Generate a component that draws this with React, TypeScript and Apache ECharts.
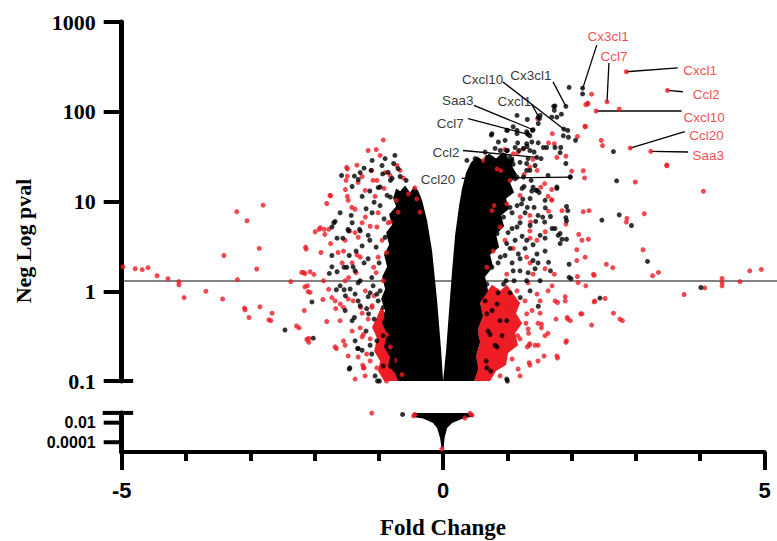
import { useEffect, useRef } from 'react';
import * as echarts from 'echarts';

// ---------- axes ----------
const xMin = -5;
const xMax = 5;
const topPanelMin = 0.1;
const topPanelMax = 1000;
const lowerPanelMin = 0.00001;
const lowerPanelMax = 0.1;
const lowerTicks = [0.0001, 0.01];
const threshold = 1.3;

// ---------- dense cores (outline of the packed clouds) [fold change, neg log p] ----------
const coreLeft: number[][] = [
  [0, 0.1], [-0.031, 0.22], [-0.093, 0.78], [-0.171, 2.8], [-0.249, 6.1], [-0.327, 10.3], [-0.389, 13.3],
  [-0.451, 14.7], [-0.513, 12.6], [-0.591, 15.1], [-0.669, 13.0], [-0.731, 14.0],
  [-0.778, 10.8], [-0.731, 8.8], [-0.84, 7.2], [-0.793, 5.5], [-0.886, 4.5], [-0.84, 3.3], [-0.918, 2.55],
  [-0.871, 1.88], [-0.949, 1.45], [-0.902, 1.06], [-0.964, 0.82], [-0.902, 0.61], [-0.949, 0.44],
  [-0.871, 0.33], [-0.918, 0.24], [-0.824, 0.185], [-0.855, 0.143], [-0.747, 0.123], [-0.7, 0.1],
];
const coreRight: number[][] = [
  [0, 0.1], [0.047, 0.22], [0.093, 0.61], [0.14, 1.69], [0.187, 4.2], [0.249, 9.0], [0.295, 14.0], [0.358, 21.1],
  [0.435, 27.3], [0.529, 31.8], [0.622, 28.7], [0.715, 34.3], [0.824, 30.1], [0.933, 35.6], [1.026, 29.4], [1.104, 31.8],
  [1.073, 24.7], [1.151, 19.9], [1.042, 16.3], [1.104, 12.6], [0.98, 10.8], [1.026, 8.3], [0.902, 7.0], [0.949, 5.3],
  [0.824, 4.3], [0.871, 3.1], [0.731, 2.55], [0.778, 1.88], [0.653, 1.45], [0.7, 1.01], [0.575, 0.74], [0.622, 0.53],
  [0.544, 0.38], [0.575, 0.27], [0.513, 0.19], [0.544, 0.136], [0.482, 0.1],
];
const fringeLeft: number[][] = [
  [-0.591, 0.1], [-0.918, 0.1], [-1.011, 0.129], [-0.98, 0.167], [-1.073, 0.216], [-1.026, 0.295],
  [-1.104, 0.4], [-1.026, 0.52], [-0.964, 0.67], [-0.886, 0.55], [-0.902, 0.38], [-0.824, 0.28],
  [-0.84, 0.205], [-0.747, 0.159], [-0.7, 0.123],
];
const fringeRight: number[][] = [
  [0.482, 0.1], [0.529, 0.136], [0.513, 0.19], [0.575, 0.27], [0.544, 0.38], [0.622, 0.53], [0.575, 0.74],
  [0.669, 0.96], [0.762, 1.18], [0.886, 1.01], [0.995, 1.18], [1.104, 0.91], [1.197, 0.74], [1.135, 0.57],
  [1.229, 0.44], [1.12, 0.34], [1.166, 0.25], [1.011, 0.205], [0.98, 0.151], [0.824, 0.129], [0.731, 0.1],
];
const funnelLower: number[][] = [
  [-0.467, 0.1], [0.451, 0.1], [0.467, 0.043], [0.311, 0.027], [0.14, 0.0093], [0.062, 0.0029],
  [0.023, 0.00027], [0.008, 0.000021], [-0.023, 0.000021], [-0.047, 0.00027], [-0.093, 0.0029],
  [-0.156, 0.0093], [-0.311, 0.027], [-0.467, 0.038],
];

// ---------- individual genes ----------
const redPoints: number[][] = [
  [-4.98, 1.87], [-4.79, 1.78], [-4.68, 1.74], [-4.59, 1.83], [-4.45, 1.49], [-4.28, 1.38], [-4.11, 1.28], [-4.11, 1.18], [-4.03, 0.85],
  [-3.21, 7.7], [-3.05, 6.1], [-2.8, 9.1], [-2.86, 3.0], [-3.41, 2.5], [-2.9, 1.77], [-3.2, 1.35], [-3.69, 1.0], [-3.43, 0.82],
  [-3.09, 0.65], [-3.08, 0.62], [-3.02, 0.51], [-2.85, 0.67], [-2.66, 0.57], [-2.71, 0.48], [-2.68, 0.47], [-2.28, 0.41],
  [-2.24, 0.39], [-2.12, 0.29], [-2.09, 0.27], [-2.37, 1.28], [-2.2, 1.62], [-2.15, 1.57], [-2.07, 1.65], [-2.01, 1.54],
  [-2.13, 2.95], [-1.99, 4.6], [-1.93, 4.9], [-1.85, 4.9], [-1.78, 4.9], [-1.84, 4.3], [-1.76, 11.7], [-1.81, 9.5], [-1.9, 2.7],
  [-2.16, 0.61], [-2.1, 0.99], [-2.15, 1.12], [-1.81, 0.46], [-1.68, 0.24], [-1.66, 0.23], [-1.49, 23], [-1.34, 25.4],
  [-1.49, 19.2], [-1.52, 13.6], [-1.49, 11.4], [-1.37, 8.2],
  [-0.93, 48.5], [-1.04, 37.9], [-0.72, 25.2], [-1.26, 19], [-1.51, 17.2], [-0.67, 22.2], [-0.62, 18.3], [-1.09, 17.2],
  [-1.75, 11.6], [-1.42, 8.6], [-0.44, 14.2], [-1.91, 5.1], [-2.14, 3.1], [-1.75, 3.4], [-1.32, 4.0], [-1.34, 2.55],
  [-2.17, 1.62], [-2.11, 1.15], [-2.07, 0.97], [-1.86, 1.31], [-1.87, 0.81], [-1.78, 1.05], [-1.73, 0.85], [-1.6, 0.72],
  [-1.55, 0.66], [-1.67, 0.64], [-1.28, 0.66], [-1.24, 0.33], [-2.09, 0.3], [-1.25, 0.15], [-1.23, 0.14],
  [-1.5, 24], [-1.11, 22.2], [-1.03, 17.2], [-0.9, 21], [-1.21, 6.7], [-1.45, 4.7], [-1.03, 5.2], [-0.82, 5.9], [-0.7, 7.6],
  [-0.54, 12.2], [-0.41, 10.7], [-0.36, 7.6], [-1.55, 2.8], [-1.29, 2.4], [-1.08, 1.85], [-0.88, 2.7], [-1.47, 1.42],
  [-1.21, 1.01], [-0.93, 1.31], [-1.4, 0.78], [-1.11, 0.66], [-0.95, 0.51], [-1.29, 0.39], [-1.06, 0.39], [-0.88, 0.33],
  [-1.01, 0.26], [-0.82, 0.24], [-1.19, 0.2], [-0.93, 0.18], [-0.75, 0.17], [-1.03, 0.14], [-0.82, 0.129], [-0.64, 0.118],
  [-0.88, 0.1], [-1.24, 0.14], [-1.55, 0.28],
  [-0.731, 10.3], [-0.855, 5.8], [-0.949, 3.7], [-1.011, 2.4], [-1.042, 1.61], [-1.073, 0.89], [-1.104, 0.69], [-1.166, 0.49],
  [-1.26, 0.31], [-1.322, 0.185], [-1.135, 0.167], [-1.213, 0.114], [-1.369, 0.105], [-1.477, 0.19], [-1.602, 0.47],
  [-1.68, 0.78], [-1.524, 1.31], [-1.415, 2.07], [-1.633, 2.7], [-1.524, 3.7], [-1.369, 4.5], [-1.26, 5.8], [-1.058, 11.4],
  [-0.918, 14.0], [-0.824, 19.5], [-1.213, 13.3],
  [-1.166, 37], [-0.98, 32.6], [-1.322, 16.3], [-1.477, 10.3], [-1.011, 7.5], [-1.135, 5.3], [-1.571, 2.07], [-1.353, 1.61],
  [-1.477, 0.82], [-1.26, 0.57], [-1.415, 0.36], [-1.524, 0.25], [-1.135, 0.295],
  [0.63, 28.7], [0.84, 23], [1.09, 34], [1.25, 38.5], [1.4, 29.5], [0.76, 7.9], [0.99, 9.4], [1.2, 6.7], [0.89, 5.2],
  [1.35, 4.7], [1.46, 3.7], [1.09, 3.0], [0.78, 2.8], [1.3, 2.4], [0.68, 1.85], [0.99, 1.55], [1.4, 1.55], [1.15, 1.01],
  [0.84, 1.01], [1.46, 0.93], [0.63, 0.78], [1.04, 0.66], [1.3, 0.56], [0.73, 0.51], [0.94, 0.39], [0.58, 0.33],
  [0.84, 0.28], [0.68, 0.2], [1.04, 0.24], [0.78, 0.14], [0.58, 0.118],
  [1.275, 0.78], [1.384, 0.61], [1.477, 0.44], [1.197, 0.295], [1.073, 0.176], [0.886, 0.114], [1.166, 0.136], [1.431, 0.25],
  [1.586, 0.32], [1.509, 0.78], [1.322, 1.24], [1.633, 1.01], [0.964, 3.7], [1.353, 2.07], [0.793, 9.0], [1.042, 17.2], [1.197, 11.7],
  [1.462, 22.2], [1.633, 11.4], [1.353, 3.9], [1.586, 1.78], [1.695, 1.15], [1.509, 0.57], [1.322, 0.38], [1.757, 0.49],
  [1.477, 0.25], [1.477, 0.167], [1.197, 0.114], [1.742, 0.78],
  [2.18, 22.0], [2.2, 18.3], [2.99, 16.5], [3.48, 25.0], [4.05, 13.0], [1.69, 13.6], [1.52, 14.4], [1.69, 10.5], [1.85, 7.9],
  [2.18, 7.7], [2.27, 7.9], [2.86, 6.5], [2.85, 5.9], [3.13, 7.3], [1.64, 7.8], [2.11, 4.3], [2.26, 3.8], [2.08, 2.9],
  [3.11, 2.9], [2.54, 2.0], [2.64, 1.83], [2.08, 2.2], [2.35, 1.5], [2.09, 1.46], [3.26, 1.49], [3.35, 1.62], [4.77, 1.69],
  [4.95, 1.75], [4.34, 1.39], [4.34, 1.25], [4.34, 1.15], [4.62, 1.28], [4.07, 1.09], [3.75, 0.92], [2.22, 1.15],
  [1.9, 0.87], [1.78, 0.75], [2.52, 0.83], [2.35, 0.76], [2.14, 0.56], [2.65, 0.57], [2.75, 0.49], [2.79, 0.47],
  [1.94, 0.49], [1.98, 0.47], [2.31, 0.42], [1.63, 0.34], [1.53, 0.43], [1.92, 0.28], [1.91, 0.27], [1.33, 0.34],
  [1.34, 0.25], [1.31, 0.24], [1.57, 0.19], [1.77, 0.19], [1.78, 0.18], [1.34, 0.16], [1.35, 0.15],
  [2.31, 157], [2.22, 120], [2.25, 122], [2.74, 107], [2.21, 68], [2.09, 53], [2.46, 48], [2.48, 42], [3.48, 25.5],
  [2.0, 21.8], [1.47, 84], [1.7, 57], [2.21, 69], [2.25, 125], [0.96, 38], [1.16, 35], [1.64, 45], [1.73, 44], [1.77, 31],
  [1.91, 32], [0.9, 22.2], [1.26, 20], [1.35, 24.2], [1.58, 15.8], [1.69, 10.3], [1.35, 7.0], [1.36, 5.9], [1.59, 4.6],
  [1.91, 5.6], [2.16, 3.7], [2.21, 2.4], [1.73, 1.55], [2.1, 1.25], [2.34, 1.55], [2.36, 0.78], [1.9, 0.78], [2.16, 0.56],
  [1.93, 0.51], [1.35, 0.26], [1.16, 0.32], [1.53, 0.39], [1.29, 0.44],
];

const blackPoints: number[][] = [
  [-2.46, 0.37], [-2.02, 0.3], [-1.38, 19.2], [-1.32, 17.6], [-1.68, 6.0], [-1.73, 5.2], [-1.65, 3.9], [-1.56, 3.9],
  [-1.48, 4.9], [-1.43, 7.0], [-1.73, 2.5], [-1.73, 1.87], [-1.65, 1.65], [-1.54, 1.85], [-1.46, 2.5], [-1.4, 1.87],
  [-1.77, 1.58], [-1.66, 1.04], [-1.54, 1.04], [-1.52, 0.89], [-2.04, 0.76], [-1.38, 0.51], [-1.32, 0.23], [-1.46, 0.136],
  [-0.75, 32.6], [-0.95, 25.2], [-1.23, 23.5], [-1.12, 22.2], [-0.94, 20.3], [-0.82, 17.2], [-1.14, 13.1], [-1.01, 14.3],
  [-1.7, 5.8], [-1.47, 4.7], [-1.3, 4.9], [-1.19, 0.64], [-1.33, 0.23], [-1.45, 0.14], [-1.02, 0.1], [-0.78, 0.17],
  [-1.58, 19.5], [-1.29, 21], [-0.77, 26.5], [-0.98, 14.5], [-0.82, 11.2], [-1.29, 4.7], [-1.14, 3.7], [-0.9, 4.0],
  [-1.5, 1.85], [-1.29, 1.31], [-1.11, 1.42], [-1.37, 0.93], [-1.03, 0.93], [-1.16, 0.56], [-0.93, 0.66], [-1.03, 0.28],
  [-1.11, 0.2], [-0.99, 0.1],
  [-0.669, 19.0], [-0.575, 17.2], [-0.793, 18.1], [-0.871, 11.7], [-0.98, 9.0], [-1.104, 7.5], [-0.918, 6.4], [-1.042, 3.1],
  [-1.166, 2.3], [-0.995, 2.07], [-1.089, 1.15], [-1.011, 0.78], [-1.166, 0.87], [-1.291, 0.69], [-1.073, 0.49],
  [-1.198, 0.36], [-0.933, 0.32], [-1.135, 0.25], [-0.933, 0.147], [-1.058, 0.114], [-1.26, 0.22], [-1.369, 0.28],
  [-1.415, 0.47], [-1.524, 0.61], [-1.602, 1.15], [-1.369, 1.69], [-1.26, 3.2], [-1.166, 4.2], [-1.415, 5.8], [-1.602, 7.5],
  [-1.104, 28.7], [-0.902, 30.1], [-0.7, 23.2], [-0.855, 21.1], [-1.415, 14.7], [-1.26, 11.4], [-1.073, 9.8], [-1.198, 8.3],
  [-1.353, 2.8], [-1.229, 2.07], [-1.446, 1.06], [-1.322, 1.24], [-1.322, 0.78], [-1.135, 0.96], [-0.98, 1.01],
  [2.17, 183], [2.17, 158], [1.96, 187], [1.72, 115], [1.73, 104], [1.69, 87], [1.77, 87], [1.87, 54], [1.95, 52],
  [1.48, 87], [1.09, 68], [1.15, 62], [1.3, 60], [1.35, 54], [0.99, 62], [0.76, 57], [0.89, 37], [0.99, 37],
  [1.12, 40], [1.25, 39], [1.3, 44], [1.38, 46], [1.56, 40], [1.82, 35], [0.68, 31], [0.89, 28.7], [1.04, 31], [0.73, 24],
  [0.94, 24], [1.09, 26], [0.52, 18.7], [0.84, 18.7], [1.15, 18.7], [1.25, 18.7], [1.46, 13.3], [1.4, 14.4], [0.42, 14.4],
  [0.63, 13.3], [0.89, 14.4],
  [0.75, 55], [1.0, 62], [1.15, 57], [1.31, 57], [1.39, 62], [1.15, 91], [1.31, 82], [1.48, 74], [1.51, 91], [1.74, 116],
  [1.84, 94], [1.94, 62], [2.06, 48], [0.86, 46], [1.0, 37], [1.16, 45], [1.35, 37], [1.48, 45], [1.61, 40], [1.74, 40],
  [1.83, 40], [1.91, 26.5], [0.68, 28.7], [0.86, 28], [1.3, 26.5], [1.35, 22.2], [1.45, 13.3], [1.77, 14], [1.98, 18.8],
  [1.92, 8.8], [1.94, 7.9], [1.92, 6.1], [1.31, 8.6], [1.59, 8.5], [1.55, 6.7], [1.67, 6.8], [1.58, 5.9], [1.79, 4.2],
  [1.85, 3.8], [1.96, 2.0], [1.64, 2.1], [1.46, 2.6], [1.67, 1.69], [1.96, 1.43], [1.0, 0.1], [0.74, 0.129],
  [2.7, 17], [1.77, 14.5], [1.38, 13.1], [1.24, 10.6], [2.47, 6.2], [2.74, 7.1], [2.93, 5.4], [1.91, 6.6], [1.44, 6.0],
  [1.74, 5.0], [1.82, 4.4], [1.92, 3.8], [1.82, 3.4], [3.18, 2.15], [1.99, 1.38], [4.01, 1.1], [2.44, 0.84], [1.48, 0.68],
  [2.65, 36],
  [0.37, 28.7], [0.52, 24], [0.68, 18.7], [0.89, 15.8], [0.58, 14.5], [1.09, 20.3], [1.3, 22.2], [0.84, 11.2], [1.04, 8.6],
  [1.22, 9.4], [0.94, 6.7], [1.15, 5.2], [0.84, 4.4], [1.3, 3.7], [0.99, 3.4], [0.73, 3.7], [1.17, 2.6], [0.89, 2.4],
  [1.4, 2.2], [0.76, 1.85], [1.09, 1.69], [1.3, 1.31], [0.94, 1.2], [0.68, 1.2], [1.2, 0.85], [0.84, 0.72], [0.68, 0.56],
  [0.99, 0.47], [0.73, 0.33], [0.84, 0.24], [0.68, 0.14], [0.99, 0.105],
  [0.964, 32.6], [1.073, 28.7], [1.197, 27.3], [1.322, 30.1], [1.431, 25.2], [1.12, 17.9], [1.011, 14.0], [1.229, 14.0],
  [1.353, 10.8], [1.073, 7.5], [1.197, 5.8], [1.353, 5.4], [1.011, 4.5], [1.12, 3.7], [1.275, 3.0], [0.964, 2.5],
  [0.855, 2.07], [1.073, 2.07], [1.197, 1.69], [0.98, 1.31], [0.855, 0.96], [1.042, 0.96], [1.353, 1.01], [1.509, 1.31],
  [1.431, 1.78], [1.586, 2.8], [1.509, 4.2], [1.477, 7.0], [1.586, 10.3], [1.633, 19.5], [0.964, 48], [0.809, 39],
  [0.653, 35.5], [0.498, 30.1],
  [1.182, 37], [1.306, 41], [1.415, 35.6], [1.524, 30.1], [1.26, 14.7], [1.369, 17.2], [1.493, 12.6], [1.151, 9.0],
  [1.275, 7.5], [1.415, 8.6], [1.073, 5.0], [1.229, 4.1], [1.4, 3.3], [1.586, 3.9], [1.042, 3.0], [1.197, 2.3],
  [1.322, 1.61], [1.104, 1.31], [1.477, 2.07], [1.695, 5.0],
  [0.653, 0.78], [0.762, 0.61], [0.886, 0.47], [0.7, 0.36], [0.809, 0.25], [0.918, 0.32], [0.669, 0.167],
];

const redLowerPoints: number[][] = [
  [-1.11, 0.095], [-0.44, 0.07], [-0.46, 0.05], [0.34, 0.03], [0.42, 0.09], [0.45, 0.06], [-0.02, 0.00002],
];
const blackLowerPoints: number[][] = [[-0.63, 0.07]];

// ---------- labelled genes ----------
const blackGenes = ['Cx3cl1', 'Cxcl10', 'Cxcl1', 'Saa3', 'Ccl7', 'Ccl2', 'Ccl20'];
const blackGenePoints: number[][] = [[1.91, 115], [1.88, 64], [1.5, 84], [1.4, 63], [1.32, 56], [1.46, 31], [1.975, 18.7]];
const blackGeneAnchors: number[][] = [[1.71, 215], [0.93, 215], [1.38, 121], [0.48, 118], [0.39, 84], [0.31, 37], [0.29, 18.1]];

const redGenes = ['Cx3cl1', 'Ccl7', 'Cxcl1', 'Ccl2', 'Cxcl10', 'Ccl20', 'Saa3'];
const redGenePoints: number[][] = [[2.17, 180], [2.55, 129], [2.85, 279], [3.49, 173], [2.38, 102], [2.91, 39.4], [3.23, 36.2]];
const redGeneDotIsRed = [false, true, true, true, true, true, true];
const redGeneAnchors: number[][] = [[2.39, 553], [2.58, 349], [3.65, 308], [3.73, 167], [3.71, 102], [3.76, 60], [3.81, 35.6]];

// label placement (layout only)
const blackLabelLayout = [
  { distance: 1, offset: [0, -6.5] },
  { distance: 0, offset: [1, -2] },
  { distance: 0, offset: [0, -3] },
  { distance: 0, offset: [0, -5] },
  { distance: 4, offset: [0, 5] },
  { distance: 3, offset: [0, 2] },
  { distance: 6, offset: [0, 1.5] },
];
const redLabelLayout = [
  { position: 'top', distance: 1.5, offset: [11.5, 0] },
  { position: 'top', distance: 0, offset: [5, 0.5] },
  { position: 'right', distance: 5, offset: [0, 3] },
  { position: 'right', distance: 9.5, offset: [0, 2.3] },
  { position: 'right', distance: 1.5, offset: [0, 7] },
  { position: 'right', distance: 4, offset: [0, 4] },
  { position: 'right', distance: 4, offset: [0, 3.3] },
];

const RED = '#ee1c25';
const BLACK = '#000000';
const SANS = '"Liberation Sans", Arial, sans-serif';
const SERIF = '"Liberation Serif", "Times New Roman", serif';

function polygonSeries(pts: number[][], color: string, yIdx: number, opacity = 1) {
  return {
    type: 'custom',
    xAxisIndex: yIdx === 0 ? 0 : 1,
    yAxisIndex: yIdx,
    silent: true,
    data: [[pts[0][0], pts[0][1]]],
    renderItem: (_p: any, api: any) => ({
      type: 'polygon',
      shape: { points: pts.map((p) => api.coord(p)) },
      style: { fill: color, opacity },
    }),
  };
}

function scatterSeries(data: number[][], color: string, yIdx: number) {
  return {
    type: 'scatter',
    xAxisIndex: yIdx === 0 ? 0 : 1,
    yAxisIndex: yIdx,
    data,
    symbolSize: 5,
    silent: true,
    itemStyle: { color },
  };
}

function buildOption() {
  const segments = [
    ...blackGeneAnchors.map((a, i) => [a[0], a[1], blackGenePoints[i][0], blackGenePoints[i][1]]),
    ...redGeneAnchors.map((a, i) => [a[0], a[1], redGenePoints[i][0], redGenePoints[i][1]]),
  ];
  const labelData = [
    ...blackGenes.map((g, i) => ({
      name: g,
      value: blackGeneAnchors[i],
      label: { position: 'left', distance: blackLabelLayout[i].distance, offset: blackLabelLayout[i].offset, color: BLACK },
    })),
    ...redGenes.map((g, i) => ({
      name: g,
      value: redGeneAnchors[i],
      label: { position: redLabelLayout[i].position, distance: redLabelLayout[i].distance, offset: redLabelLayout[i].offset, color: RED },
    })),
  ];
  const redLabelDots = redGenePoints.filter((_, i) => redGeneDotIsRed[i]);

  const tickStyle = { color: BLACK, width: 4 };
  return {
    animation: false,
    backgroundColor: '#ffffff',
    grid: [
      { left: 121.7, right: 12.5, top: 22, height: 359 },
      { left: 121.7, right: 12.5, top: 412.9, height: 39.1 },
    ],
    xAxis: [
      { gridIndex: 0, type: 'value', min: xMin, max: xMax, show: false },
      {
        gridIndex: 1, type: 'value', position: 'bottom', min: xMin, max: xMax, interval: 1,
        axisLine: { onZero: false, lineStyle: { color: BLACK, width: 4 } },
        axisTick: { length: 9, lineStyle: tickStyle },
        axisLabel: { show: false }, splitLine: { show: false },
      },
      {
        gridIndex: 1, type: 'value', position: 'bottom', offset: 0, min: xMin, max: xMax, interval: 5,
        axisLine: { show: false, onZero: false },
        axisTick: { length: 18, lineStyle: tickStyle },
        axisLabel: { fontSize: 22, fontWeight: 'bold', fontFamily: SANS, color: BLACK, margin: 27 },
        splitLine: { show: false },
      },
    ],
    yAxis: [
      {
        gridIndex: 0, type: 'log', logBase: 10, min: topPanelMin, max: topPanelMax,
        axisLine: { show: true, onZero: false, lineStyle: { color: BLACK, width: 5 } },
        axisTick: { show: true, length: 18, lineStyle: tickStyle },
        axisLabel: {
          fontSize: 22, fontWeight: 'bold', fontFamily: SERIF, color: BLACK, margin: 26,
          formatter: (v: number) => String(Number(Number(v).toPrecision(4))),
        },
        splitLine: { show: false }, minorTick: { show: false },
      },
      {
        gridIndex: 1, type: 'log', logBase: 10, min: lowerPanelMin, max: lowerPanelMax,
        axisLine: { show: true, onZero: false, lineStyle: { color: BLACK, width: 5 } },
        axisTick: { show: false }, axisLabel: { show: false }, splitLine: { show: false },
      },
    ],
    series: [
      polygonSeries(fringeLeft, RED, 0),
      polygonSeries(fringeRight, RED, 0),
      polygonSeries(coreLeft, BLACK, 0),
      polygonSeries(coreRight, BLACK, 0),
      polygonSeries(funnelLower, BLACK, 1),
      scatterSeries(redPoints, RED, 0),
      scatterSeries(redLabelDots, RED, 0),
      scatterSeries(blackPoints, BLACK, 0),
      scatterSeries(blackGenePoints, BLACK, 0),
      scatterSeries(redLowerPoints, RED, 1),
      scatterSeries(blackLowerPoints, BLACK, 1),
      {
        type: 'custom', xAxisIndex: 0, yAxisIndex: 0, silent: true, data: segments,
        renderItem: (_p: any, api: any) => {
          const a = api.coord([api.value(0), api.value(1)]);
          const b = api.coord([api.value(2), api.value(3)]);
          return { type: 'line', shape: { x1: a[0], y1: a[1], x2: b[0], y2: b[1] }, style: { stroke: BLACK, lineWidth: 1.3 } };
        },
      },
      {
        type: 'scatter', xAxisIndex: 0, yAxisIndex: 0, silent: true, symbolSize: 1,
        itemStyle: { color: 'rgba(0,0,0,0)' },
        label: { show: true, formatter: '{b}', fontFamily: SANS, fontSize: 13.5 },
        data: labelData,
      },
    ],
  };
}

export default function App() {
  const ref = useRef<HTMLDivElement>(null);
  useEffect(() => {
    const chart = echarts.init(ref.current!, undefined, { renderer: 'svg' });
    chart.setOption(buildOption() as any);
    const x0 = chart.convertToPixel({ xAxisIndex: 0 }, xMin) as number;
    const yThr = chart.convertToPixel({ yAxisIndex: 0 }, threshold) as number;
    const yTopBreak = chart.convertToPixel({ yAxisIndex: 0 }, topPanelMin) as number;
    const yLowBreak = chart.convertToPixel({ yAxisIndex: 1 }, lowerPanelMax) as number;
    const graphics: any[] = [
      { type: 'line', z: 0, shape: { x1: x0, y1: yThr, x2: 777, y2: yThr }, style: { stroke: '#5a5a5a', lineWidth: 1.4 } },
      { type: 'line', z: 10, shape: { x1: x0, y1: yTopBreak, x2: x0 + 11.5, y2: yTopBreak }, style: { stroke: BLACK, lineWidth: 4 } },
      { type: 'line', z: 10, shape: { x1: x0 - 19, y1: yLowBreak, x2: x0 + 11.5, y2: yLowBreak }, style: { stroke: BLACK, lineWidth: 4 } },
      {
        type: 'text', z: 10, x: 23, y: 241, rotation: Math.PI / 2,
        style: { text: 'Neg Log pval', font: `bold 22px ${SERIF}`, fill: BLACK, textAlign: 'center', textVerticalAlign: 'middle' },
      },
      {
        type: 'text', z: 10, x: 443, y: 527,
        style: { text: 'Fold Change', font: `bold 23px ${SERIF}`, fill: BLACK, textAlign: 'center', textVerticalAlign: 'middle' },
      },
    ];
    lowerTicks.forEach((v) => {
      const y = chart.convertToPixel({ yAxisIndex: 1 }, v) as number;
      graphics.push({ type: 'line', z: 10, shape: { x1: x0 - 18, y1: y, x2: x0, y2: y }, style: { stroke: BLACK, lineWidth: 4 } });
      graphics.push({
        type: 'text', z: 10, x: x0 - 26, y,
        style: { text: String(v), font: `bold 16px ${SANS}`, fill: BLACK, textAlign: 'right', textVerticalAlign: 'middle' },
      });
    });
    chart.setOption({ graphic: graphics });
    return () => chart.dispose();
  }, []);
  return <div ref={ref} style={{ position: 'absolute', left: 0, top: 0, width: 777, height: 541 }} />;
}
